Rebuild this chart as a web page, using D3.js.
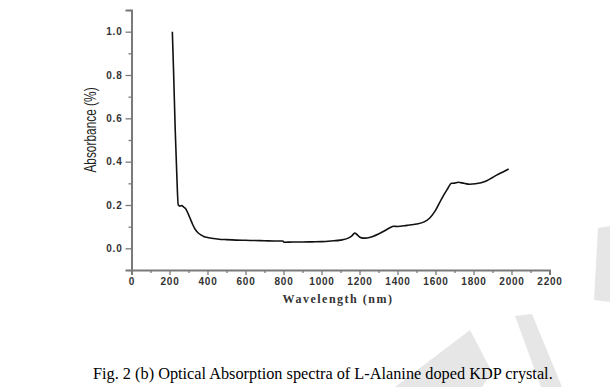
<!DOCTYPE html>
<html>
<head>
<meta charset="utf-8">
<script src="https://cdn.jsdelivr.net/npm/d3@7"></script>
<style>
  body { margin: 0; background: #fff; }
  svg { display: block; }
</style>
</head>
<body>
<script>
// spectrum (nm, absorbance)
var wavelength = [215, 222, 230, 238, 246, 255, 265, 275, 285, 298, 310, 322, 335, 350, 365, 380,
    400, 430, 460, 500, 550, 600, 650, 700, 750, 795, 805, 850, 900, 950, 1000, 1050, 1100,
    1140, 1160, 1175, 1185, 1200, 1220, 1240, 1270, 1300, 1330, 1360, 1380, 1400, 1450, 1500,
    1540, 1570, 1600, 1630, 1660, 1685, 1700, 1720, 1750, 1780, 1810, 1840, 1870, 1900, 1930,
    1960, 1985];
var absorbance = [1.0, 0.8, 0.55, 0.35, 0.2, 0.195, 0.197, 0.19, 0.183, 0.16, 0.135, 0.11, 0.088,
    0.072, 0.062, 0.055, 0.05, 0.045, 0.042, 0.04, 0.038, 0.037, 0.036, 0.035, 0.034, 0.034,
    0.028, 0.029, 0.029, 0.03, 0.031, 0.034, 0.038, 0.047, 0.058, 0.07, 0.065, 0.052, 0.047,
    0.048, 0.055, 0.066, 0.08, 0.095, 0.102, 0.101, 0.106, 0.112, 0.122, 0.14, 0.175, 0.225,
    0.27, 0.3, 0.301, 0.305, 0.3, 0.296, 0.298, 0.303, 0.312, 0.327, 0.342, 0.355, 0.366];
var xTicks = d3.range(0, 2201, 200);
var xMinor = d3.range(100, 2200, 200);
var yTicks = [0.0, 0.2, 0.4, 0.6, 0.8, 1.0];
var yMinor = [-0.1, 0.1, 0.3, 0.5, 0.7, 0.9, 1.1];
var caption = "Fig. 2 (b) Optical Absorption spectra of L-Alanine doped KDP crystal.";

var W = 610, H = 387;
var svg = d3.select("body").append("svg").attr("width", W).attr("height", H);
svg.append("rect").attr("width", W).attr("height", H).attr("fill", "#fff");

// faint watermark shapes
var wm = [
    [[395, 387], [470, 330], [492, 372], [482, 387]],
    [[515, 316], [532, 314], [562, 387], [541, 387]],
    [[598, 228], [610, 226], [610, 302], [594, 300]]
];
svg.append("g").selectAll("polygon").data(wm).enter().append("polygon")
    .attr("points", function (d) { return d.join(" "); })
    .attr("fill", "#e6e6e6");

var x = d3.scaleLinear().domain([0, 2200]).range([131.5, 549.5]);
var y = d3.scaleLinear().domain([-0.1, 1.1]).range([270, 10]);
var axisColor = "#7a7a7a";

// x axis
svg.append("g").attr("transform", "translate(0,270)")
    .call(d3.axisBottom(x).tickValues(xTicks).tickSize(5).tickPadding(3)
        .tickFormat(d3.format("d")));
svg.append("g").attr("transform", "translate(0,270)")
    .call(d3.axisBottom(x).tickValues(xMinor).tickSize(3).tickFormat(""))
    .select(".domain").remove();

// y axis
svg.append("g").attr("transform", "translate(131.5,0)")
    .call(d3.axisLeft(y).tickValues(yTicks).tickSize(6).tickPadding(3)
        .tickFormat(d3.format(".1f")));
svg.append("g").attr("transform", "translate(131.5,0)")
    .call(d3.axisLeft(y).tickValues(yMinor).tickSize(3).tickFormat(""))
    .select(".domain").remove();

svg.selectAll(".domain").attr("stroke", axisColor).attr("stroke-width", 2);
svg.selectAll(".tick line").attr("stroke", axisColor).attr("stroke-width", 1.3);
svg.selectAll(".tick text")
    .attr("fill", "#333")
    .style("font-family", "'Liberation Sans', Arial, sans-serif")
    .style("font-size", "10px")
    .style("font-weight", "bold")
    .style("letter-spacing", "0.8px");

// axis titles
svg.append("text")
    .attr("x", 338).attr("y", 303)
    .attr("text-anchor", "middle")
    .style("font-family", "'Liberation Serif', 'Times New Roman', serif")
    .style("font-weight", "bold")
    .style("font-size", "12px")
    .style("letter-spacing", "1.5px")
    .attr("fill", "#333")
    .text("Wavelength (nm)");

// narrow look: squeeze along the text direction
svg.append("text")
    .attr("transform", "translate(96,130) rotate(-90) scale(0.7,1)")
    .attr("text-anchor", "middle")
    .style("font-family", "'Liberation Sans', Arial, sans-serif")
    .style("font-size", "17px")
    .attr("fill", "#222")
    .text("Absorbance (%)");

// spectrum line
var pts = wavelength.map(function (w, i) { return [w, absorbance[i]]; });
var line = d3.line()
    .x(function (d) { return x(d[0]); })
    .y(function (d) { return y(d[1]); })
    .curve(d3.curveMonotoneX);
svg.append("path")
    .datum(pts)
    .attr("d", line)
    .attr("fill", "none")
    .attr("stroke", "#111")
    .attr("stroke-width", 1.6)
    .attr("stroke-linejoin", "round");

// caption
svg.append("text")
    .attr("x", 93).attr("y", 379)
    .style("font-family", "'Liberation Serif', 'Times New Roman', serif")
    .style("font-size", "16.3px")
    .attr("fill", "#000")
    .text(caption);
</script>
</body>
</html>
